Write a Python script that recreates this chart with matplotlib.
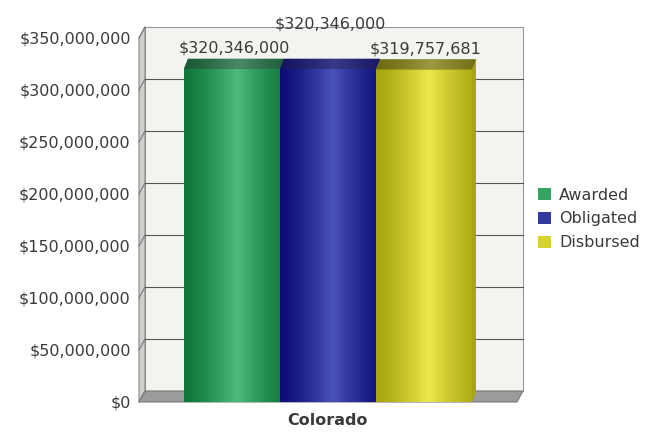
import numpy as np
import matplotlib
matplotlib.use("Agg")
from matplotlib import pyplot as plt
from matplotlib.patches import Polygon, Rectangle, Patch
from matplotlib.colors import LinearSegmentedColormap

categories = ["Colorado"]
series = ["Awarded", "Obligated", "Disbursed"]
values = [320346000, 320346000, 319757681]
label_lift = [0, 24, 0]  # pixels, the middle label sits higher
yticks = [0, 50e6, 100e6, 150e6, 200e6, 250e6, 300e6, 350e6]

# edge / centre colours for the cylinder-ish shading
shades = [("#0f773a", "#4dbb7c"), ("#0d0d78", "#4a52b8"), ("#a8a60f", "#ece84c")]
tops = [("#1c5a36", "#4a8a66"), ("#141460", "#3a3a88"), ("#6e6c10", "#9c9a40")]
legend_cols = ["#35a562", "#3338a0", "#d6d32c"]

plt.rcParams["font.family"] = "DejaVu Sans"
plt.rcParams["font.size"] = 11.5
txt = "#3a3a3a"

fig = plt.figure(figsize=(6.62, 4.32), dpi=100)
W, H = 662, 432
L, R, T, B = 139, 517, 38, 402
ax = fig.add_axes([L / W, 1 - B / H, (R - L) / W, (B - T) / H])
ax.set_xlim(-0.5, 0.5)
ax.set_ylim(0, 350e6)

pw, ph = R - L, B - T
DX, DY = 6 / pw, 11 / ph          # wall depth, axes fraction
bdx = 4 / pw * 1.0                # bar depth in data x
bdy = 10 / ph * 350e6             # bar depth in data y

# back wall, side wall, floor
ax.add_patch(Rectangle((DX, DY), 1, 1, transform=ax.transAxes, facecolor="#f3f3ef",
                       edgecolor="#9a9a9a", lw=0.8, clip_on=False, zorder=0))
ax.add_patch(Polygon([(0, 0), (0, 1), (DX, 1 + DY), (DX, DY)], closed=True,
                     transform=ax.transAxes, facecolor="#cfcfcc", edgecolor="#8a8a8a",
                     lw=0.8, clip_on=False, zorder=0.5))
ytr = ax.get_yaxis_transform()
dy_data = DY * 350e6
for v in yticks[1:-1]:
    ax.plot([DX, 1 + DX], [v + dy_data, v + dy_data], transform=ytr, color="#555555",
            lw=0.8, clip_on=False, zorder=0.6)
for v in yticks:
    ax.plot([0, DX], [v, v + dy_data], transform=ytr, color="#777777",
            lw=0.8, clip_on=False, zorder=0.6)
ax.add_patch(Polygon([(0, 0), (1, 0), (1 + DX, DY), (DX, DY)], closed=True,
                     transform=ax.transAxes, facecolor="#9b9b9b", edgecolor="#7a7a7a",
                     lw=0.8, clip_on=False, zorder=1))

# bars
width = 96 / pw
xs = np.arange(len(categories))
grad = np.linspace(0, 1, 256)
prof = np.clip(1 - np.abs(grad - 0.55) / 0.55, 0, 1) ** 1.3
prof = prof[None, :]

for i, (name, v) in enumerate(zip(series, values)):
    x = xs[0] + (i - 1) * width
    x0, x1 = x - width / 2, x + width / 2
    cm = LinearSegmentedColormap.from_list(name, shades[i])
    # right side face
    side = Polygon([(x1, 0), (x1, v), (x1 + bdx, v + bdy), (x1 + bdx, bdy)], closed=True,
                   facecolor=shades[i][0], edgecolor="none", zorder=2)
    ax.add_patch(side)
    bar = ax.bar(x, v, width, color=shades[i][0], edgecolor="none", zorder=3)[0]
    im = ax.imshow(prof, cmap=cm, aspect="auto", extent=(x0, x1, 0, v), zorder=3.5,
                   interpolation="bicubic")
    im.set_clip_path(bar)
    top = Polygon([(x0, v), (x0 + bdx, v + bdy), (x1 + bdx, v + bdy), (x1, v)], closed=True,
                  facecolor=tops[i][0], edgecolor="none", zorder=3.6)
    ax.add_patch(top)
    tcm = LinearSegmentedColormap.from_list(name + "_t", tops[i])
    tim = ax.imshow(prof, cmap=tcm, aspect="auto", extent=(x0, x1 + bdx, v, v + bdy),
                    zorder=3.7, interpolation="bicubic")
    tim.set_clip_path(top)
    ax.annotate(f"${v:,.0f}", (x + bdx / 2, v + bdy), xytext=(0, 3 + label_lift[i]),
                textcoords="offset pixels", ha="center", va="bottom", color=txt,
                fontsize=11.5, zorder=5, annotation_clip=False)

ax.set_xlim(-0.5, 0.5)
ax.set_ylim(0, 350e6)
ax.set_yticks(yticks)
ax.set_yticklabels([f"${v:,.0f}" for v in yticks], color=txt)
ax.set_xticks(xs)
ax.set_xticklabels(categories, fontweight="bold", color=txt)
ax.tick_params(axis="y", length=0, pad=6)
ax.tick_params(axis="x", length=0, pad=8)
for s in ax.spines.values():
    s.set_visible(False)
ax.patch.set_visible(False)

handles = [Patch(facecolor=c, edgecolor="none") for c in legend_cols]
fig.legend(handles, series, loc="center left", bbox_to_anchor=(524 / W, 1 - 219 / H),
           frameon=False, handlelength=0.8, handleheight=0.8, handletextpad=0.5,
           labelspacing=0.55, fontsize=11.5, labelcolor=txt)

fig.savefig("out.png", dpi=100)
